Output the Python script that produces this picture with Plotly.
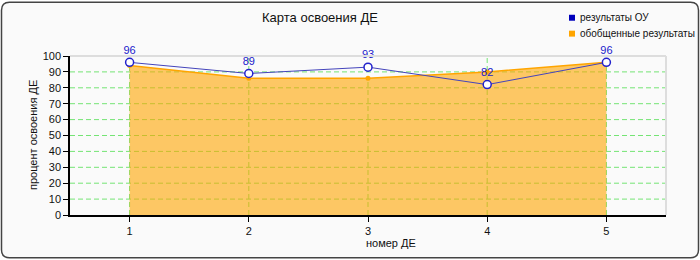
import plotly.graph_objects as go

# ---- data ----
categories = [1, 2, 3, 4, 5]
ou_results = [96, 89, 93, 82, 96]
general_results = [94, 86, 86, 90, 96]
y_ticks = [0, 10, 20, 30, 40, 50, 60, 70, 80, 90, 100]
title_text = "Карта освоения ДЕ"
x_title = "номер ДЕ"
y_title = "процент освоения ДЕ"
legend_names = ["результаты ОУ", "обобщенные результаты"]

W, H = 700, 260
ML, MR, MT, MB = 70, 34, 55.5, 44.5
PW, PH = W - ML - MR, H - MT - MB
X_RANGE = [0.5, 5.5]
Y_RANGE = [0, 100]

def px(x):
    return (x - ML) / PW

def py(y):
    return (H - MB - y) / PH

FONT = "Liberation Sans, Arial, sans-serif"
GRID = "#74E474"
DASH = "5px,3px"
ORANGE = "#FFA500"

fig = go.Figure()

# grid lines: horizontal at every y tick, vertical full-height at even categories,
# dashed drop lines at the other categories (all under the translucent fill)
gx, gy = [], []
for t in y_ticks[1:]:
    gx += [X_RANGE[0], X_RANGE[1], None]
    gy += [t, t, None]
for i, (c, v) in enumerate(zip(categories, general_results)):
    top = Y_RANGE[1] if i % 2 == 1 else v
    gx += [c, c, None]
    gy += [Y_RANGE[0], top, None]
fig.add_trace(go.Scatter(x=gx, y=gy, mode="lines",
                         line=dict(color=GRID, width=1, dash=DASH),
                         hoverinfo="skip", showlegend=False))

# area of generalized results
fig.add_trace(go.Scatter(x=categories, y=general_results, mode="lines+markers",
                         fill="tozeroy", fillcolor="rgba(255,165,0,0.6)",
                         line=dict(color=ORANGE, width=1.5),
                         marker=dict(color=ORANGE, size=5),
                         name=legend_names[1], showlegend=False))

# OU results line
fig.add_trace(go.Scatter(x=categories, y=ou_results, mode="lines+markers+text",
                         text=[str(v) for v in ou_results], textposition="top center",
                         textfont=dict(color="#1A1ACC", size=11, family=FONT),
                         line=dict(color="#4444BB", width=1),
                         marker=dict(symbol="circle", size=8, color="white",
                                     line=dict(color="#2222CC", width=1.5)),
                         name=legend_names[0], showlegend=False, cliponaxis=False))

shapes = []
# outer rounded frame
x0, y0, x1, y1, r = 1.5, 1.5, W - 1.5, H - 1.5, 8
path = (f"M {px(x0 + r)},{py(y0)} L {px(x1 - r)},{py(y0)} Q {px(x1)},{py(y0)} {px(x1)},{py(y0 + r)} "
        f"L {px(x1)},{py(y1 - r)} Q {px(x1)},{py(y1)} {px(x1 - r)},{py(y1)} "
        f"L {px(x0 + r)},{py(y1)} Q {px(x0)},{py(y1)} {px(x0)},{py(y1 - r)} "
        f"L {px(x0)},{py(y0 + r)} Q {px(x0)},{py(y0)} {px(x0 + r)},{py(y0)} Z")
shapes.append(dict(type="path", path=path, xref="paper", yref="paper",
                   fillcolor="#FAFAFA", line=dict(color="#444444", width=1.5), layer="below"))
# plot area top/right light border
shapes.append(dict(type="line", xref="paper", yref="paper", x0=0, x1=1, y0=1, y1=1,
                   line=dict(color="#DDDDDD", width=2), layer="above"))
shapes.append(dict(type="line", xref="paper", yref="paper", x0=1, x1=1, y0=0, y1=1,
                   line=dict(color="#DDDDDD", width=2), layer="above"))
# legend squares
leg_colors = ["#0000BB", ORANGE]
for i, col in enumerate(leg_colors):
    cy = 17 + i * 16
    shapes.append(dict(type="rect", xref="paper", yref="paper",
                       x0=px(569), x1=px(575), y0=py(cy + 3), y1=py(cy - 3),
                       fillcolor=col, line=dict(width=0)))

annotations = []
annotations.append(dict(text=title_text, xref="paper", yref="paper", x=px(320), y=py(17),
                        showarrow=False, xanchor="center", yanchor="middle",
                        font=dict(size=13, color="#111111", family=FONT)))
for i, name in enumerate(legend_names):
    annotations.append(dict(text=name, xref="paper", yref="paper", x=px(578), y=py(17 + i * 16),
                            showarrow=False, xanchor="left", yanchor="middle",
                            font=dict(size=10, color="#111111", family=FONT)))
annotations.append(dict(text=x_title, xref="paper", yref="paper", x=px(391), y=py(244),
                        showarrow=False, xanchor="center", yanchor="middle",
                        font=dict(size=11, color="#111111", family=FONT)))
annotations.append(dict(text=y_title, xref="paper", yref="paper", x=px(33), y=py(135),
                        showarrow=False, xanchor="center", yanchor="middle", textangle=-90,
                        font=dict(size=11, color="#111111", family=FONT)))

fig.update_layout(
    width=W, height=H,
    margin=dict(l=ML, r=MR, t=MT, b=MB),
    paper_bgcolor="white", plot_bgcolor="white",
    showlegend=False,
    shapes=shapes, annotations=annotations,
    xaxis=dict(range=X_RANGE, tickvals=categories, ticktext=[str(c) for c in categories],
               showgrid=False, zeroline=False, showline=True, linecolor="black", linewidth=1.5,
               ticks="outside", ticklen=5, tickcolor="black", tickwidth=1,
               tickfont=dict(size=11, color="#111111", family=FONT), layer="above traces"),
    yaxis=dict(range=Y_RANGE, tickvals=y_ticks, showgrid=False,
               zeroline=False, showline=True, linecolor="black", linewidth=1.5,
               ticks="outside", ticklen=5, tickcolor="black", tickwidth=1,
               tickfont=dict(size=11, color="#111111", family=FONT), layer="above traces"),
)

fig.write_html("out.html")
